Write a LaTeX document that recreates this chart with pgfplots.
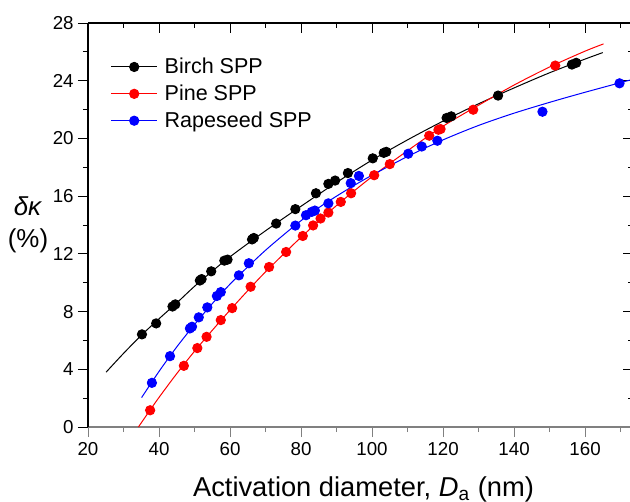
\documentclass[border=0pt]{standalone}
\usepackage{pgfplots}
\pgfplotsset{compat=1.18}
\usepackage{fontspec}
\setmainfont{Liberation Sans}
\begin{document}
\begin{tikzpicture}
\pgfplotsset{
  common/.style={
    at={(0,0)}, anchor=south west,
    scale only axis, width=272.5bp, height=202bp,
    xmin=20, xmax=173.5, ymin=0, ymax=28,
    xtick={20,40,...,160}, minor xtick={30,50,...,170},
    ytick={0,4,...,28}, minor ytick={2,6,...,26},
    major tick length=5bp, minor tick length=2.5bp,
    every tick/.style={line width=0.5bp},
    axis line style={line width=0.6bp},
  }
}
% top/right frame with inward ticks
\begin{axis}[common,
  axis x line*=top, axis y line*=right,
  tick align=inside,
  xticklabels={}, yticklabels={},
]
\addplot[draw=none] coordinates {(20,0)};
\end{axis}
\begin{axis}[common,
  axis x line*=bottom, axis y line*=left,
  tick align=outside,
  x axis line style={draw=gray},
  x tick style={gray},
  /pgf/number format/assume math mode=true,
  ticklabel style={font=\fontsize{9.4}{11}\selectfont},
  xticklabel style={inner sep=0pt, anchor=north, yshift=-2.5bp},
  yticklabel style={inner sep=0pt, anchor=east, xshift=-2bp},
  xlabel={Activation diameter, \textit{D}\textsubscript{a} (nm)},
  xlabel style={font=\fontsize{13.7}{15}\selectfont, at={(axis description cs:0.5055,0)}, anchor=base, yshift=-34.6bp},
  legend style={draw=none, fill=none, at={(axis description cs:0.03,0.931)}, anchor=north west,
    font=\fontsize{10.8}{13}\selectfont, row sep=1.75bp,
    /tikz/every even column/.append style={column sep=3bp},
    nodes={inner ysep=1.2bp}},
  legend cell align=left,
  legend image code/.code={\draw[mark repeat=2,mark phase=2,#1] plot coordinates {(0bp,0bp) (11.5bp,0bp) (23bp,0bp)};},
  every axis plot/.append style={line width=0.5bp},
]
\addlegendimage{black, mark=*, mark size=2.3bp}
\addlegendentry{\hspace{1.5bp}Birch SPP}
\addlegendimage{red, mark=*, mark size=2.3bp}
\addlegendentry{\hspace{1.5bp}Pine SPP}
\addlegendimage{blue, mark=*, mark size=2.3bp}
\addlegendentry{\hspace{1.5bp}Rapeseed SPP}
% fitted curves
\addplot[black, smooth, forget plot] coordinates {
(25.1,3.8) (30,5.1) (35,6.35) (40,7.5) (45,8.6) (50,9.75) (55,10.8) (60,11.8)
(70,13.6) (80,15.3) (90,16.95) (100,18.5) (110,19.9) (120,21.2) (130,22.4)
(140,23.5) (150,24.55) (160,25.5) (165,25.95)};
\addplot[red, smooth, forget plot] coordinates {
(34.2,0) (37,1.0) (40,2.05) (45,3.7) (50,5.25) (55,6.7) (60,8.1) (65,9.45)
(70,10.75) (80,13.15) (90,15.35) (100,17.35) (110,19.15) (120,20.85) (130,22.3)
(140,23.7) (150,24.95) (160,26.05) (165.2,26.55)};
\addplot[blue, smooth, forget plot] coordinates {
(35.1,2.04) (40,3.85) (45,5.55) (50,7.1) (55,8.55) (60,9.9) (65,11.1) (70,12.25)
(75,13.3) (80,14.3) (85,15.2) (90,16.0) (95,16.75) (100,17.45) (110,18.75)
(120,19.9) (130,20.9) (140,21.75) (150,22.5) (160,23.2) (173.5,24.1)};
% measured points
\addplot[only marks, mark=*, mark size=2.3bp, black, forget plot] coordinates {
(35.2,6.42) (39.2,7.18) (43.8,8.35) (44.6,8.5) (51.5,10.15) (52,10.25) (54.7,10.79)
(58.4,11.53) (59.3,11.6) (66.2,13.0) (66.7,13.1) (73,14.1) (78.4,15.1) (84.2,16.2)
(87.7,16.85) (89.6,17.08) (93.2,17.6) (100.2,18.62) (103.3,19.0) (104,19.07)
(121,21.42) (122.3,21.53) (135.5,22.97) (156.3,25.12) (157.5,25.24)};
\addplot[only marks, mark=*, mark size=2.3bp, red, forget plot] coordinates {
(37.5,1.16) (47,4.24) (50.8,5.47) (53.4,6.25) (57.4,7.41) (60.6,8.24) (65.8,9.72)
(71,11.09) (75.8,12.13) (80.5,13.24) (83.4,13.97) (85.5,14.45) (87.7,14.86)
(91.2,15.6) (94.1,16.2) (100.6,17.45) (105,18.22) (116.1,20.19) (118.7,20.6)
(119.3,20.65) (128.5,21.99) (151.6,25.05)};
\addplot[only marks, mark=*, mark size=2.3bp, blue, forget plot] coordinates {
(38,3.06) (43.1,4.91) (48.7,6.83) (49.3,6.95) (51.2,7.6) (53.6,8.29) (56.3,9.08)
(57.4,9.35) (62.5,10.51) (65.3,11.35) (78.4,13.96) (81.4,14.68) (83,14.91)
(83.9,15.0) (87.7,15.5) (94,16.9) (96.3,17.4) (110.2,18.94) (114,19.44)
(118.4,19.84) (148,21.85) (169.7,23.82)};
\end{axis}
\node[anchor=center, align=center, inner sep=0pt, font=\fontsize{13}{16}\selectfont] at (-30bp,101bp) {\textit{δκ}\\(\%)};
\pgfresetboundingbox
\path[use as bounding box] (-44bp,-37.5bp) rectangle (271bp,213.5bp);
\end{tikzpicture}
\end{document}
